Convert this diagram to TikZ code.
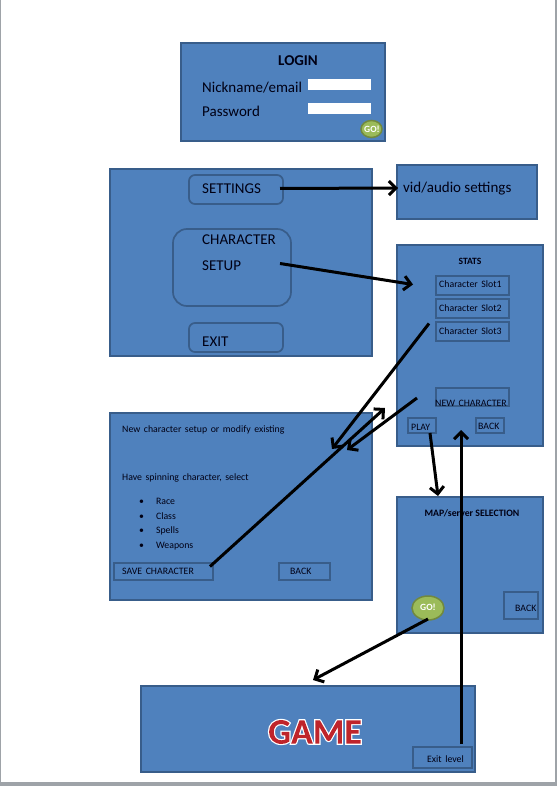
\documentclass[tikz,border=0pt]{standalone}
\usepackage{fontspec}
\setmainfont{Carlito}
\newfontfamily\uifont[WordSpace=1.6]{Carlito}
\usetikzlibrary{arrows.meta,calc,shapes.geometric}
\definecolor{PanelBlue}{HTML}{4F81BD}
\definecolor{PanelEdge}{HTML}{385D8A}
\definecolor{GoGreen}{HTML}{9BBB59}
\definecolor{GoEdge}{HTML}{71893F}
\definecolor{PageGrey}{HTML}{9EA3A8}
\colorlet{InkDark}{black!92!blue}
\newcommand{\ringtext}[4]{\special{pdf:code q 5 Tr #1 w #2 RG}#4\special{pdf:code #3 rg -9000 -9000 18000 18000 re f Q}}

\begin{document}
\begin{tikzpicture}[x=1pt,y=-1pt,
    panel/.style={rectangle,draw=PanelEdge,fill=PanelBlue,line width=1.5pt,inner sep=0pt,outer sep=0pt},
    btn/.style={rectangle,draw=PanelEdge,line width=1.7pt,inner sep=0pt,outer sep=0pt},
    roundbtn/.style={btn,rounded corners=6pt},
    field/.style={rectangle,fill=white,inner sep=0pt,outer sep=0pt},
    gobtn/.style={ellipse,draw=GoEdge,fill=GoGreen,line width=1.5pt,inner sep=0pt,outer sep=0pt},
    golbl/.style={inner sep=0pt,text=white,font=\fontsize{9.5}{10}\selectfont\bfseries},
    biglbl/.style={anchor=west,inner sep=0pt,yshift=-1pt,text=InkDark,font=\fontsize{15}{18}\selectfont},
    smalllbl/.style={anchor=west,inner sep=0pt,yshift=-1pt,text=InkDark,font=\uifont\fontsize{9.8}{11}\selectfont},
    flow/.style={-{Straight Barb[length=7pt,width=14pt,line width=3pt]},line width=3pt,black}
  ]
    \useasboundingbox (0,0) rectangle (557,786);
    \fill[PageGrey] (0,0) rectangle (557,786);
    \fill[white] (1,0) rectangle (555,782);

    \node[panel,minimum width=204,minimum height=98] (login) at (283,92) {};
    \node[inner sep=0pt,text=InkDark,font=\fontsize{15}{18}\selectfont\bfseries] (logintitle) at (298,61) {LOGIN};
    \node[biglbl] (nicklbl) at (202,87) {Nickname/email};
    \node[biglbl] (passlbl) at (202,110) {Password};
    \node[field,minimum width=63,minimum height=11] (nickfield) at (339.5,84.5) {};
    \node[field,minimum width=63,minimum height=11] (passfield) at (339.5,108.5) {};
    \node[gobtn,minimum width=21,minimum height=17] (logingo) at (371.5,129) {};
    \node[golbl] (logingolbl) at (372,129.5) {GO!};

    \node[panel,minimum width=262,minimum height=187] (menu) at (241,262.5) {};
    \node[roundbtn,minimum width=94,minimum height=29] (btnsettings) at (236,189.5) {};
    \node[roundbtn,rounded corners=14pt,minimum width=118,minimum height=77] (charbox) at (232,267.5) {};
    \node[roundbtn,minimum width=94,minimum height=29] (btnexit) at (236,337.5) {};
    \node[biglbl] (settingslbl) at (202,188) {SETTINGS};
    \node[biglbl] (charlbl) at (202,239) {CHARACTER};
    \node[biglbl] (setuplbl) at (202,265) {SETUP};
    \node[biglbl] (exitlbl) at (202,341) {EXIT};

    \node[panel,minimum width=140,minimum height=54] (vid) at (467,192) {};
    \node[biglbl] (vidlbl) at (403,188) {vid/audio settings};

    \node[panel,minimum width=146,minimum height=201] (stats) at (470,345.5) {};
    \node[inner sep=0pt,text=InkDark,font=\fontsize{9.6}{11}\selectfont\bfseries] (statstitle) at (470,261.5) {STATS};
    \node[btn,minimum width=73,minimum height=19] (slotone) at (472.5,285.5) {};
    \node[btn,minimum width=73,minimum height=19] (slottwo) at (472.5,308.5) {};
    \node[btn,minimum width=73,minimum height=19] (slotthree) at (472.5,331.5) {};
    \node[smalllbl] (slotonelbl) at (439,283) {Character Slot1};
    \node[smalllbl] (slottwolbl) at (439,307) {Character Slot2};
    \node[smalllbl] (slotthreelbl) at (439,330) {Character Slot3};
    \node[btn,minimum width=73,minimum height=18] (btnnew) at (472.5,397) {};
    \node[smalllbl] (newlbl) at (435,402) {NEW CHARACTER};
    \node[btn,minimum width=28,minimum height=15] (btnplay) at (422,425.5) {};
    \node[smalllbl] (playlbl) at (411,426) {PLAY};
    \node[btn,minimum width=28,minimum height=15] (btnback) at (490,425.5) {};
    \node[smalllbl] (backlbl) at (478,425) {BACK};

    \node[panel,minimum width=262,minimum height=187] (setup) at (241,506.5) {};
    \node[smalllbl] (newsetuplbl) at (122,429) {New character setup or modify existing};
    \node[smalllbl] (spinlbl) at (122,477) {Have spinning character, select};
    \node[smalllbl] (racelbl) at (139,500) {\textbullet\hspace{12pt}Race};
    \node[smalllbl] (classlbl) at (139,515) {\textbullet\hspace{12pt}Class};
    \node[smalllbl] (spellslbl) at (139,530) {\textbullet\hspace{12pt}Spells};
    \node[smalllbl] (weaponslbl) at (139,545) {\textbullet\hspace{12pt}Weapons};
    \node[btn,minimum width=99,minimum height=17] (btnsave) at (163.5,571.5) {};
    \node[smalllbl] (savelbl) at (122,570) {SAVE CHARACTER};
    \node[btn,minimum width=51,minimum height=17] (btnsetback) at (304.5,571.5) {};
    \node[smalllbl] (setbacklbl) at (290,570) {BACK};

    \node[panel,minimum width=146,minimum height=136] (mapsel) at (470,565) {};
    \node[inner sep=0pt,text=InkDark,font=\fontsize{9.8}{11}\selectfont\bfseries] (maplbl) at (472,513) {MAP/server SELECTION};
    \node[btn,minimum width=34,minimum height=27] (btnmapback) at (521,605.5) {};
    \node[smalllbl] (mapbacklbl) at (515,607) {BACK};
    \node[gobtn,minimum width=32,minimum height=24] (mapgo) at (428,608) {};
    \node[golbl] (mapgolbl) at (428,607) {GO!};

    \node[panel,minimum width=334,minimum height=86] (game) at (308,729) {};
    \node[inner sep=0pt,font=\fontsize{36}{37}\selectfont\bfseries] (gamelbl) at (315,732) {\ringtext{2.4}{1 1 1}{0.75 0.14 0.17}{GAME}};
    \node[btn,minimum width=59,minimum height=21] (btnleave) at (442.5,757.5) {};
    \node[smalllbl] (leavelbl) at (427,758) {Exit level};

    \draw[flow] ($(btnsettings.east)+(-3,-1)$) -- ($(vid.west)+(1,-4)$);
    \draw[flow] ($(charbox.east)+(-11,-4)$) -- ($(slotone.west)+(-23,-1)$);
    \draw[flow] ($(slotthree.west)+(-7,-8)$) -- ($(setup.north east)+(-40,36)$);
    \draw[flow] ($(stats.south west)+(20,-48)$) -- ($(setup.north east)+(-25,37)$);
    \draw[flow] ($(btnsave.east)+(-3,-5)$) -- ($(stats.south west)+(-12,-38)$);
    \draw[flow] ($(btnplay.south)+(8,0)$) -- ($(mapsel.north)+(-32,-1)$);
    \draw[flow] ($(mapgo.south)+(0,-1)$) -- ($(game.north)+(5,-6)$);
    \draw[flow] ($(btnleave.north)+(18.5,-3)$) -- ($(btnnew.south)+(-11.5,24)$);
\end{tikzpicture}
\end{document}
